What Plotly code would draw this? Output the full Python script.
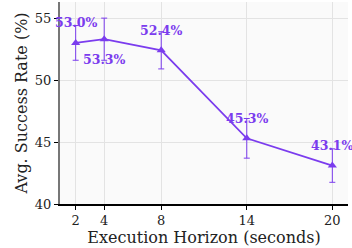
import plotly.graph_objects as go

horizon = [2, 4, 8, 14, 20]
success = [53.0, 53.3, 52.4, 45.3, 43.1]
err = [1.4, 1.7, 1.5, 1.6, 1.35]
labels = ["53.0%", "53.3%", "52.4%", "45.3%", "43.1%"]
label_side = [1, -1, 1, 1, 1]
x_ticks = [2, 4, 8, 14, 20]
y_ticks = [40, 45, 50, 55]

color = "#7b3cee"
font_family = "DejaVu Serif"

fig = go.Figure()
fig.add_trace(go.Scatter(
    x=horizon, y=success, mode="lines+markers",
    line=dict(color=color, width=1.8),
    marker=dict(symbol="triangle-up", size=8, color=color),
    error_y=dict(type="data", array=err, visible=True, color=color,
                 thickness=1, width=3),
    showlegend=False,
))

for x, y, t, s in zip(horizon, success, labels, label_side):
    fig.add_annotation(x=x, y=y, text="<b>" + t + "</b>", showarrow=False,
                       yshift=20 * s, font=dict(family=font_family, size=12.5, color=color))

fig.update_layout(
    width=352, height=248,
    margin=dict(l=60, r=4, t=2, b=44),
    paper_bgcolor="white", plot_bgcolor="#fafafa",
    font=dict(family=font_family, size=13, color="#222"),
)
fig.update_xaxes(
    range=[0.9, 21.1], tickvals=x_ticks, ticktext=[str(v) for v in x_ticks],
    showgrid=True, gridcolor="#e3e3e3", gridwidth=1,
    showline=True, linecolor="black", linewidth=1.5,
    ticks="outside", ticklen=4, tickcolor="black",
    tickfont=dict(size=13),
    title=dict(text="Execution Horizon (seconds)", font=dict(size=16), standoff=3),
    zeroline=False,
)
fig.update_yaxes(
    range=[40, 56.3], tickvals=y_ticks,
    showgrid=True, gridcolor="#e3e3e3", gridwidth=1,
    showline=True, linecolor="#777", linewidth=2,
    ticks="outside", ticklen=4, tickcolor="black",
    tickfont=dict(size=13),
    title=dict(text="Avg. Success Rate (%)", font=dict(size=16), standoff=3),
    zeroline=False,
)

fig.write_html("out.html", config={"displayModeBar": False},
               post_script="document.body.style.margin='0';document.body.style.overflow='hidden';")
